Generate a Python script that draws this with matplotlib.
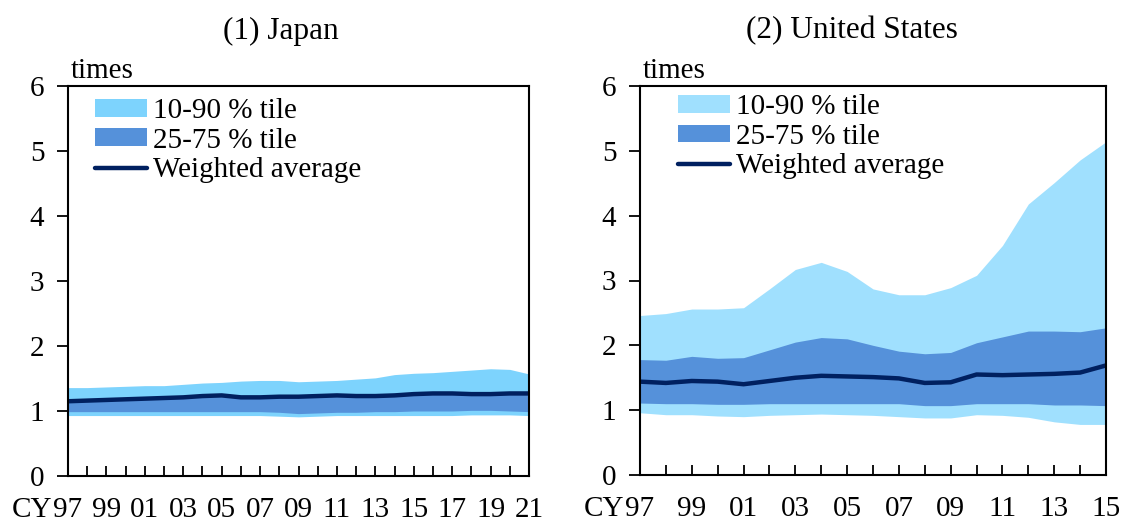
import matplotlib
matplotlib.use('Agg')
import matplotlib.pyplot as plt
import matplotlib.transforms as mtrans
from matplotlib.patches import Patch
from matplotlib.lines import Line2D

plt.rcParams['font.family'] = ['Liberation Serif', 'DejaVu Serif']

# ---- data ----
years_jp = list(range(1997, 2022))
p90_jp = [1.36, 1.36, 1.37, 1.38, 1.39, 1.39, 1.41, 1.43, 1.44, 1.46, 1.47, 1.47, 1.45,
          1.46, 1.47, 1.49, 1.51, 1.56, 1.58, 1.59, 1.61, 1.63, 1.65, 1.64, 1.57]
p75_jp = [1.18, 1.18, 1.19, 1.20, 1.21, 1.22, 1.23, 1.25, 1.27, 1.24, 1.24, 1.24, 1.24,
          1.25, 1.25, 1.26, 1.26, 1.26, 1.28, 1.30, 1.30, 1.30, 1.29, 1.29, 1.29]
avg_jp = [1.15, 1.16, 1.17, 1.18, 1.19, 1.20, 1.21, 1.23, 1.24, 1.21, 1.21, 1.22, 1.22,
          1.23, 1.24, 1.23, 1.23, 1.24, 1.26, 1.27, 1.27, 1.26, 1.26, 1.27, 1.27]
p25_jp = [0.99, 0.99, 0.99, 0.99, 0.99, 0.99, 0.99, 0.99, 0.99, 0.99, 0.99, 0.98, 0.96,
          0.97, 0.98, 0.98, 0.99, 0.99, 1.00, 1.00, 1.00, 1.01, 1.01, 1.00, 0.99]
p10_jp = [0.93, 0.93, 0.93, 0.93, 0.93, 0.93, 0.93, 0.93, 0.93, 0.93, 0.93, 0.92, 0.91,
          0.92, 0.93, 0.93, 0.93, 0.93, 0.93, 0.93, 0.93, 0.94, 0.94, 0.94, 0.93]

years_us = list(range(1997, 2016))
p90_us = [2.46, 2.49, 2.56, 2.56, 2.58, 2.87, 3.17, 3.28, 3.14, 2.87, 2.78, 2.78, 2.89,
          3.08, 3.54, 4.18, 4.51, 4.86, 5.14]
p75_us = [1.78, 1.77, 1.83, 1.80, 1.81, 1.93, 2.05, 2.12, 2.10, 2.00, 1.91, 1.87, 1.89,
          2.04, 2.13, 2.22, 2.22, 2.21, 2.27]
avg_us = [1.44, 1.42, 1.45, 1.44, 1.40, 1.45, 1.50, 1.53, 1.52, 1.51, 1.49, 1.42, 1.43,
          1.55, 1.54, 1.55, 1.56, 1.58, 1.69]
p25_us = [1.11, 1.10, 1.10, 1.09, 1.09, 1.10, 1.10, 1.10, 1.10, 1.10, 1.10, 1.07, 1.07,
          1.10, 1.10, 1.10, 1.08, 1.08, 1.07]
p10_us = [0.96, 0.93, 0.93, 0.91, 0.90, 0.92, 0.93, 0.94, 0.93, 0.92, 0.90, 0.88, 0.88,
          0.93, 0.92, 0.89, 0.82, 0.78, 0.78]

labels = ['10-90 % tile', '25-75 % tile', 'Weighted average']
titles = ['(1) Japan', '(2) United States']

c_dark = '#002060'
c_mid = '#5591DA'
c_light_jp = '#7DD3FD'
c_light_us = '#A0E0FE'

FS = 21
XPAD = 15

fig = plt.figure(figsize=(11.21, 5.21), dpi=100)
W, H = 1121, 521
ax1 = fig.add_axes([68 / W, 45 / H, 461 / W, 390 / H])
ax2 = fig.add_axes([640 / W, 46 / H, 466 / W, 389 / H])


def draw(ax, yrs, p10, p25, avg, p75, p90, light, leg_x, leg_y):
    ax.fill_between(yrs, p10, p90, color=light, lw=0)
    ax.fill_between(yrs, p25, p75, color=c_mid, lw=0)
    ax.plot(yrs, avg, color=c_dark, lw=3.2, solid_capstyle='round')
    ax.set_xlim(yrs[0], yrs[-1])
    ax.set_ylim(0, 6)
    ax.set_yticks(range(0, 7))
    ax.set_xticks(yrs)
    ax.set_xticklabels(['%02d' % (y % 100) if (y - yrs[0]) % 2 == 0 else '' for y in yrs])
    ax.tick_params(axis='x', direction='in', length=7, width=1.3, pad=XPAD, labelsize=FS)
    ax.tick_params(axis='y', direction='out', length=8, width=1.3, pad=9, labelsize=FS)
    for s in ax.spines.values():
        s.set_linewidth(1.5)
    ax.text(0.005, 1.005, 'times', transform=ax.transAxes, fontsize=FS, ha='left', va='bottom')
    tr = mtrans.blended_transform_factory(ax.transData, ax.transAxes)
    ax.annotate('CY', xy=(yrs[0], 0), xycoords=tr, xytext=(-11, -XPAD),
                textcoords='offset points', ha='right', va='top', fontsize=FS)
    handles = [Patch(color=light, lw=0), Patch(color=c_mid, lw=0),
               Line2D([], [], color=c_dark, lw=3.2, solid_capstyle='round')]
    ax.legend(handles, labels, loc='upper left', bbox_to_anchor=(leg_x, leg_y), frameon=False,
              fontsize=FS, handlelength=1.8, handleheight=0.55, handletextpad=0.2,
              labelspacing=0.12, borderaxespad=0.0, borderpad=0.4)


draw(ax1, years_jp, p10_jp, p25_jp, avg_jp, p75_jp, p90_jp, c_light_jp, 0.033, 0.999)
draw(ax2, years_us, p10_us, p25_us, avg_us, p75_us, p90_us, c_light_us, 0.056, 1.009)

fig.text(281 / W, 1 - 31 / H, titles[0], ha='center', va='center', fontsize=22.5)
fig.text(852 / W, 1 - 31 / H, titles[1], ha='center', va='center', fontsize=22.5)

fig.savefig('out.png', dpi=100)
